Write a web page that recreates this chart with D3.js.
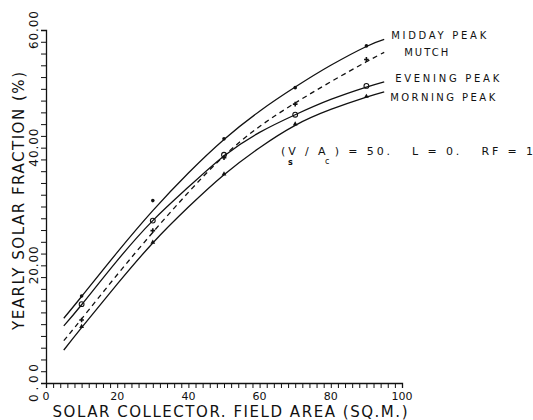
<!DOCTYPE html>
<html>
<head>
<meta charset="utf-8">
<script src="https://cdn.jsdelivr.net/npm/d3@7"></script>
<style>
  html, body { margin: 0; padding: 0; background: #fff; }
  svg { display: block; }
  text { font-family: "DejaVu Sans", sans-serif; fill: #111; white-space: pre; }
</style>
</head>
<body>
<svg id="chart" width="533" height="420"></svg>
<script>
// Fitted curves of yearly solar fraction (%) against collector field area (m²)
const curveArea = [5, 10, 20, 30, 40, 50, 60, 70, 80, 90, 95];
const middayCurve  = [11.0, 14.7, 22.2, 29.3, 35.7, 41.4, 46.2, 50.3, 54.0, 57.2, 58.4];
const eveningCurve = [9.7, 13.3, 20.8, 27.6, 33.3, 38.6, 42.6, 45.6, 48.2, 50.3, 51.2];
const mutchCurve   = [7.2, 10.9, 18.4, 25.6, 32.4, 38.6, 43.6, 47.6, 51.2, 54.6, 56.2];
const morningCurve = [5.6, 9.4, 16.8, 23.8, 29.9, 35.4, 40.0, 43.8, 46.5, 48.6, 49.5];

// Simulated points
const pointArea = [10, 30, 50, 70, 90];
const middayPts  = [14.8, 31.0, 41.5, 50.2, 57.3];
const eveningPts = [13.4, 27.6, 38.8, 45.6, 50.5];
const mutchPts   = [10.7, 25.9, 38.3, 47.4, 55.0];
const morningPts = [9.6, 23.9, 35.5, 44.0, 48.7];

const seriesNames = ["MIDDAY PEAK", "MUTCH", "EVENING PEAK", "MORNING PEAK"];
const xTicks = [0, 20, 40, 60, 80, 100];
const yTicks = [0, 20, 40, 60];

const svg = d3.select("#chart");
const x = d3.scaleLinear().domain([0, 100]).range([46, 402]);
const y = d3.scaleLinear().domain([0, 60]).range([383, 30]);

// Axes: minor ticks every 2 units, pointing outward
const xAxis = d3.axisBottom(x).tickValues(d3.range(0, 101, 2)).tickSize(5).tickFormat("");
const yAxis = d3.axisLeft(y).tickValues(d3.range(0, 61, 2)).tickSize(5).tickFormat("");
const gx = svg.append("g").attr("transform", `translate(0,${y(0)})`).call(xAxis);
const gy = svg.append("g").attr("transform", `translate(${x(0)},0)`).call(yAxis);
[gx, gy].forEach(g => {
  g.selectAll("path").attr("stroke", "#111").attr("stroke-width", 1.3);
  g.selectAll("line").attr("stroke", "#111").attr("stroke-width", 1);
});

// Tick labels
svg.append("g").selectAll("text").data(xTicks).join("text")
  .attr("x", d => x(d)).attr("y", 400)
  .attr("text-anchor", "middle").attr("font-size", 11)
  .text(d => d);
svg.append("g").selectAll("text").data(yTicks).join("text")
  .attr("transform", d => `translate(38,${y(d)}) rotate(-90)`)
  .attr("text-anchor", "middle").attr("font-size", 12)
  .attr("textLength", 38).attr("lengthAdjust", "spacing")
  .text(d => d3.format(".2f")(d));

// Axis titles
svg.append("text")
  .attr("x", 230).attr("y", 417).attr("text-anchor", "middle")
  .attr("font-size", 15).attr("textLength", 355).attr("lengthAdjust", "spacing")
  .text("SOLAR COLLECTOR. FIELD AREA (SQ.M.)");
svg.append("text")
  .attr("transform", "translate(24,201) rotate(-90)").attr("text-anchor", "middle")
  .attr("font-size", 15).attr("textLength", 258).attr("lengthAdjust", "spacing")
  .text("YEARLY SOLAR FRACTION (%)");

// Curves
const line = d3.line()
  .x((d, i) => x(curveArea[i]))
  .y(d => y(d))
  .curve(d3.curveNatural);

const curves = [
  { values: middayCurve, dash: null },
  { values: mutchCurve, dash: "5,4" },
  { values: eveningCurve, dash: null },
  { values: morningCurve, dash: null }
];
svg.append("g").selectAll("path").data(curves).join("path")
  .attr("d", d => line(d.values))
  .attr("fill", "none").attr("stroke", "#111").attr("stroke-width", 1.3)
  .attr("stroke-dasharray", d => d.dash);

// Point markers
const sym = svg.append("g");
sym.selectAll(".midday").data(middayPts).join("circle")
  .attr("cx", (d, i) => x(pointArea[i])).attr("cy", d => y(d))
  .attr("r", 1.8).attr("fill", "#111");
sym.selectAll(".evening").data(eveningPts).join("circle")
  .attr("cx", (d, i) => x(pointArea[i])).attr("cy", d => y(d))
  .attr("r", 2.4).attr("fill", "none").attr("stroke", "#111").attr("stroke-width", 1.1);
sym.selectAll(".mutch").data(mutchPts).join("path")
  .attr("transform", (d, i) => `translate(${x(pointArea[i])},${y(d)})`)
  .attr("d", d3.symbol(d3.symbolCross, 12))
  .attr("fill", "#111");
sym.selectAll(".morning").data(morningPts).join("path")
  .attr("transform", (d, i) => `translate(${x(pointArea[i])},${y(d)})`)
  .attr("d", d3.symbol(d3.symbolTriangle, 10))
  .attr("fill", "#111");

// Series labels beside the curve ends
const labelOffsets = [[7, -4, 95], [20, 0.5, 44], [11, -3.5, 104], [6, 5.5, 105]];
const endVals = [middayCurve, mutchCurve, eveningCurve, morningCurve].map(a => a[a.length - 1]);
svg.append("g").selectAll("text").data(seriesNames).join("text")
  .attr("x", (d, i) => x(95) + labelOffsets[i][0])
  .attr("y", (d, i) => y(endVals[i]) + labelOffsets[i][1] + 3.6)
  .attr("font-size", 10)
  .attr("textLength", (d, i) => labelOffsets[i][2]).attr("lengthAdjust", "spacing")
  .text(d => d);

// Parameter note
const note = svg.append("g").attr("transform", "translate(281,155)");
note.append("text").attr("font-size", 11)
  .attr("textLength", 252).attr("lengthAdjust", "spacing")
  .text("(V / A ) = 50.   L = 0.   RF = 1");
note.append("text").attr("x", 7).attr("y", 10).attr("font-size", 8).attr("font-weight", "bold").text("s");
note.append("text").attr("x", 44).attr("y", 9).attr("font-size", 8).text("c");
</script>
</body>
</html>
